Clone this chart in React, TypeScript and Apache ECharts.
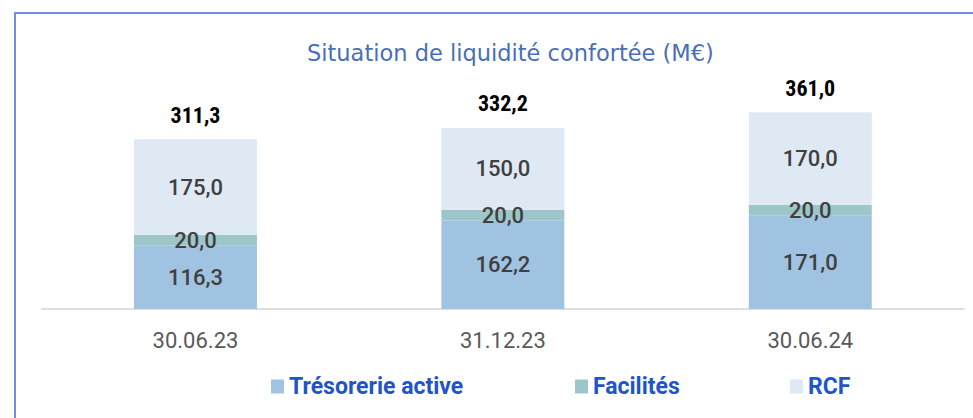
import React, { useEffect, useRef } from "react";
import * as echarts from "echarts";

const categories = ["30.06.23", "31.12.23", "30.06.24"];
const tresorerie = [116.3, 162.2, 171.0];
const facilites = [20.0, 20.0, 20.0];
const rcf = [175.0, 150.0, 170.0];
const totals = [311.3, 332.2, 361.0];
const seriesNames = ["Trésorerie active", "Facilités", "RCF"];
const seriesColors = ["#a0c3e2", "#9cc6c9", "#dfe9f4"];
const titleText = "Situation de liquidité confortée (M€)";

const fmt = (v: number) => v.toFixed(1).replace(".", ",");
const NARROW = "'Liberation Sans Narrow', 'Roboto Condensed', 'DejaVu Sans Condensed', Roboto";
const legendLefts = [271, 575, 790];

export default function App() {
  const ref = useRef<HTMLDivElement>(null);
  useEffect(() => {
    if (!ref.current) return;
    const chart = echarts.init(ref.current, undefined, { renderer: "svg" });
    const insideLabel = {
      show: true,
      position: "inside" as const,
      color: "#404040",
      fontFamily: "Roboto",
      fontSize: 22,
      fontWeight: 500,
      formatter: (p: any) => fmt(p.value),
    };
    const values = [tresorerie, facilites, rcf];
    chart.setOption({
      animation: false,
      backgroundColor: "#ffffff",
      title: {
        text: titleText,
        left: 307,
        top: 41,
        padding: 0,
        textStyle: {
          color: "#4a6fb5",
          fontFamily: "'DejaVu Sans'",
          fontSize: 22.5,
          fontWeight: "normal",
        },
      },
      graphic: [
        {
          type: "rect",
          shape: { x: 15, y: 13, width: 1000, height: 600 },
          style: { fill: "none", stroke: "#3a6fd6", lineWidth: 1.5 },
          silent: true,
        },
      ],
      legend: seriesNames.map((n, i) => ({
        data: [n],
        left: legendLefts[i],
        top: 375,
        padding: 0,
        itemWidth: 13,
        itemHeight: 14,
        icon: "rect",
        textStyle: {
          color: "#1f55c4",
          fontFamily: "Roboto",
          fontSize: 23,
          fontWeight: "bold",
        },
      })),
      grid: { left: 41.75, right: 9, top: 91, bottom: 109, containLabel: false },
      xAxis: {
        type: "category",
        data: categories,
        axisLine: { lineStyle: { color: "#d4d4d4", width: 1.5 } },
        axisTick: { show: false },
        axisLabel: {
          color: "#595959",
          fontFamily: "Roboto",
          fontSize: 22,
          margin: 20,
        },
      },
      yAxis: {
        type: "value",
        min: 0,
        max: 400,
        show: false,
        splitLine: { show: false },
      },
      series: [
        ...seriesNames.map((n, i) => ({
          name: n,
          type: "bar",
          stack: "total",
          barWidth: "40%",
          data: values[i],
          itemStyle: { color: seriesColors[i] },
          label: insideLabel,
        })),
        {
          name: "Total",
          type: "bar",
          stack: "total",
          data: totals.map(() => 0),
          itemStyle: { color: "transparent" },
          label: {
            show: true,
            position: "top",
            distance: 13,
            color: "#000000",
            fontFamily: NARROW,
            fontSize: 22,
            fontWeight: "bold",
            formatter: (p: any) => fmt(totals[p.dataIndex]),
          },
        },
      ],
    });
    return () => chart.dispose();
  }, []);
  return (
    <div
      ref={ref}
      style={{ position: "fixed", left: 0, top: 0, width: 973, height: 418 }}
    />
  );
}
